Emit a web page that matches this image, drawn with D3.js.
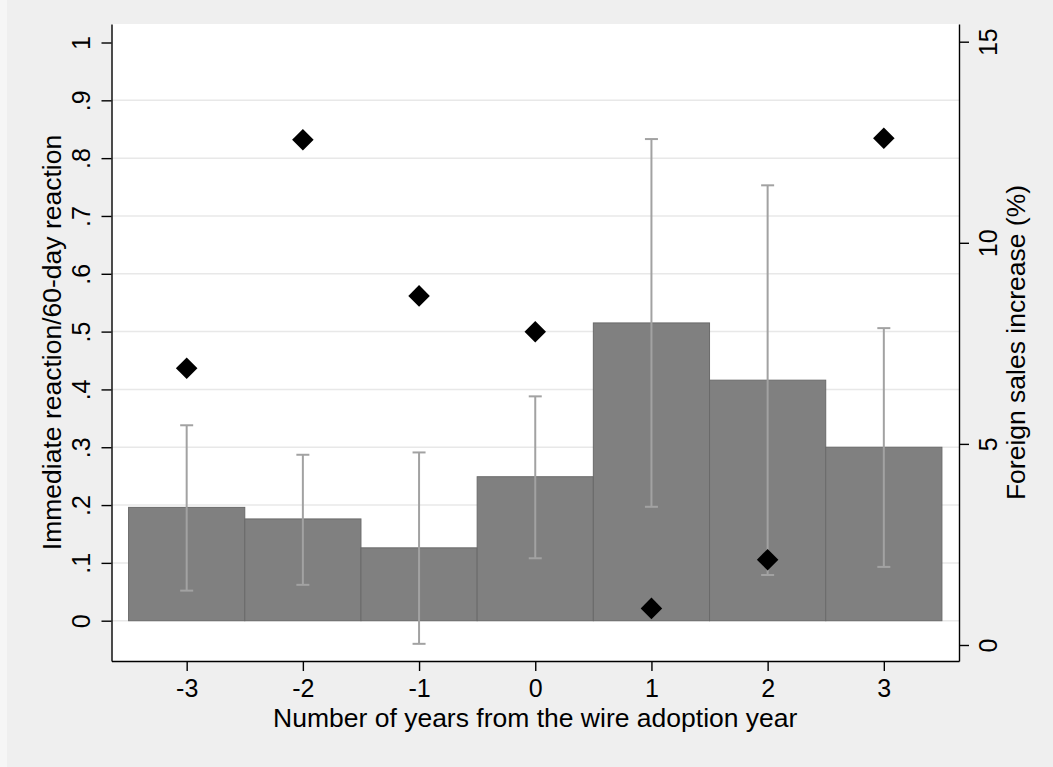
<!DOCTYPE html>
<html>
<head>
<meta charset="utf-8">
<script src="https://cdn.jsdelivr.net/npm/d3@7"></script>
<style>
  body { margin: 0; background: #f6f6f6; }
  svg { display: block; font-family: "Liberation Sans", Arial, Helvetica, sans-serif; }
</style>
</head>
<body>
<svg id="chart" width="1053" height="767"></svg>
<script>
// data
var years = [-3, -2, -1, 0, 1, 2, 3];
var ratio = [0.196, 0.176, 0.126, 0.249, 0.515, 0.416, 0.300];
var ciLow = [0.052, 0.062, -0.040, 0.108, 0.197, 0.079, 0.093];
var ciHigh = [0.338, 0.287, 0.291, 0.388, 0.833, 0.753, 0.506];
var sales = [6.88, 12.56, 8.68, 7.79, 0.91, 2.12, 12.60];

var leftTicks = [0, .1, .2, .3, .4, .5, .6, .7, .8, .9, 1];
var rightTicks = [0, 5, 10, 15];

var svg = d3.select('#chart');
var plot = {left: 111.5, right: 959, top: 24, bottom: 661};

// outer background
svg.append('rect').attr('x', 7).attr('y', 0).attr('width', 1046).attr('height', 767)
    .attr('fill', '#efefef');
svg.append('rect').attr('x', plot.left).attr('y', plot.top)
    .attr('width', plot.right - plot.left).attr('height', plot.bottom - plot.top)
    .attr('fill', '#ffffff');

var x = d3.scaleLinear().domain([-3.647, 3.647]).range([plot.left, plot.right]);
var yL = d3.scaleLinear().domain([-0.0697, 1.032]).range([plot.bottom, plot.top]);
var yR = d3.scaleLinear().domain([-0.398, 15.44]).range([plot.bottom, plot.top]);

// gridlines
svg.append('g').selectAll('line')
    .data(leftTicks.filter(d => d < 1))
    .enter().append('line')
    .attr('x1', plot.left).attr('x2', plot.right)
    .attr('y1', d => yL(d)).attr('y2', d => yL(d))
    .attr('stroke', '#e8e8e8').attr('stroke-width', 1.5);

// bars
svg.append('g').selectAll('rect')
    .data(years)
    .enter().append('rect')
    .attr('x', d => x(d - 0.5))
    .attr('width', d => x(d + 0.5) - x(d - 0.5))
    .attr('y', (d, i) => yL(ratio[i]))
    .attr('height', (d, i) => yL(0) - yL(ratio[i]))
    .attr('fill', '#808080')
    .attr('stroke', '#6a6a6a').attr('stroke-width', 1);

// error bars
var eb = svg.append('g').attr('stroke', '#a2a2a2').attr('stroke-width', 2);
years.forEach(function (d, i) {
    eb.append('line').attr('x1', x(d)).attr('x2', x(d))
        .attr('y1', yL(ciLow[i])).attr('y2', yL(ciHigh[i]));
    [ciLow[i], ciHigh[i]].forEach(function (v) {
        eb.append('line').attr('x1', x(d) - 6.5).attr('x2', x(d) + 6.5)
            .attr('y1', yL(v)).attr('y2', yL(v));
    });
});

// diamonds on the right axis scale
svg.append('g').selectAll('path')
    .data(years)
    .enter().append('path')
    .attr('d', d3.symbol(d3.symbolSquare, 232))
    .attr('transform', (d, i) => 'translate(' + x(d) + ',' + yR(sales[i]) + ') rotate(45)')
    .attr('fill', '#000');

// axes
var fmtL = d => d === 0 ? '0' : d === 1 ? '1' : d3.format('.1f')(d).replace(/^0/, '');

var gL = svg.append('g').attr('transform', 'translate(' + plot.left + ',0)')
    .call(d3.axisLeft(yL).tickValues(leftTicks).tickFormat(fmtL).tickSize(10).tickSizeOuter(0));
gL.selectAll('text')
    .attr('x', null).attr('dy', null)
    .attr('transform', 'translate(-21.5,0) rotate(-90)')
    .attr('text-anchor', 'middle');

var gR = svg.append('g').attr('transform', 'translate(' + plot.right + ',0)')
    .call(d3.axisRight(yR).tickValues(rightTicks).tickSize(10).tickSizeOuter(0));
gR.selectAll('text')
    .attr('x', null).attr('dy', null)
    .attr('transform', 'translate(38,0) rotate(-90)')
    .attr('text-anchor', 'middle');

var gB = svg.append('g').attr('transform', 'translate(0,' + plot.bottom + ')')
    .call(d3.axisBottom(x).tickValues(years).tickFormat(d => String(d)).tickSize(10).tickSizeOuter(0));
gB.selectAll('text').attr('y', null).attr('dy', null)
    .attr('transform', 'translate(0,36)');

[gL, gR, gB].forEach(function (g) {
    g.selectAll('text').attr('font-size', 25).attr('fill', '#000')
        .attr('font-family', '"Liberation Sans", Arial, Helvetica, sans-serif');
    g.selectAll('line, path').attr('stroke', '#000').attr('stroke-width', 1.4);
});

// titles
var midY = (plot.top + plot.bottom) / 2;
svg.append('text')
    .attr('transform', 'translate(61,' + midY + ') rotate(-90)')
    .attr('text-anchor', 'middle').attr('font-size', 26.5)
    .text('Immediate reaction/60-day reaction');

svg.append('text')
    .attr('transform', 'translate(1025,' + midY + ') rotate(-90)')
    .attr('text-anchor', 'middle').attr('font-size', 26.5)
    .text('Foreign sales increase (%)');

svg.append('text')
    .attr('x', (plot.left + plot.right) / 2).attr('y', 727)
    .attr('text-anchor', 'middle').attr('font-size', 26.5)
    .text('Number of years from the wire adoption year');
</script>
</body>
</html>
